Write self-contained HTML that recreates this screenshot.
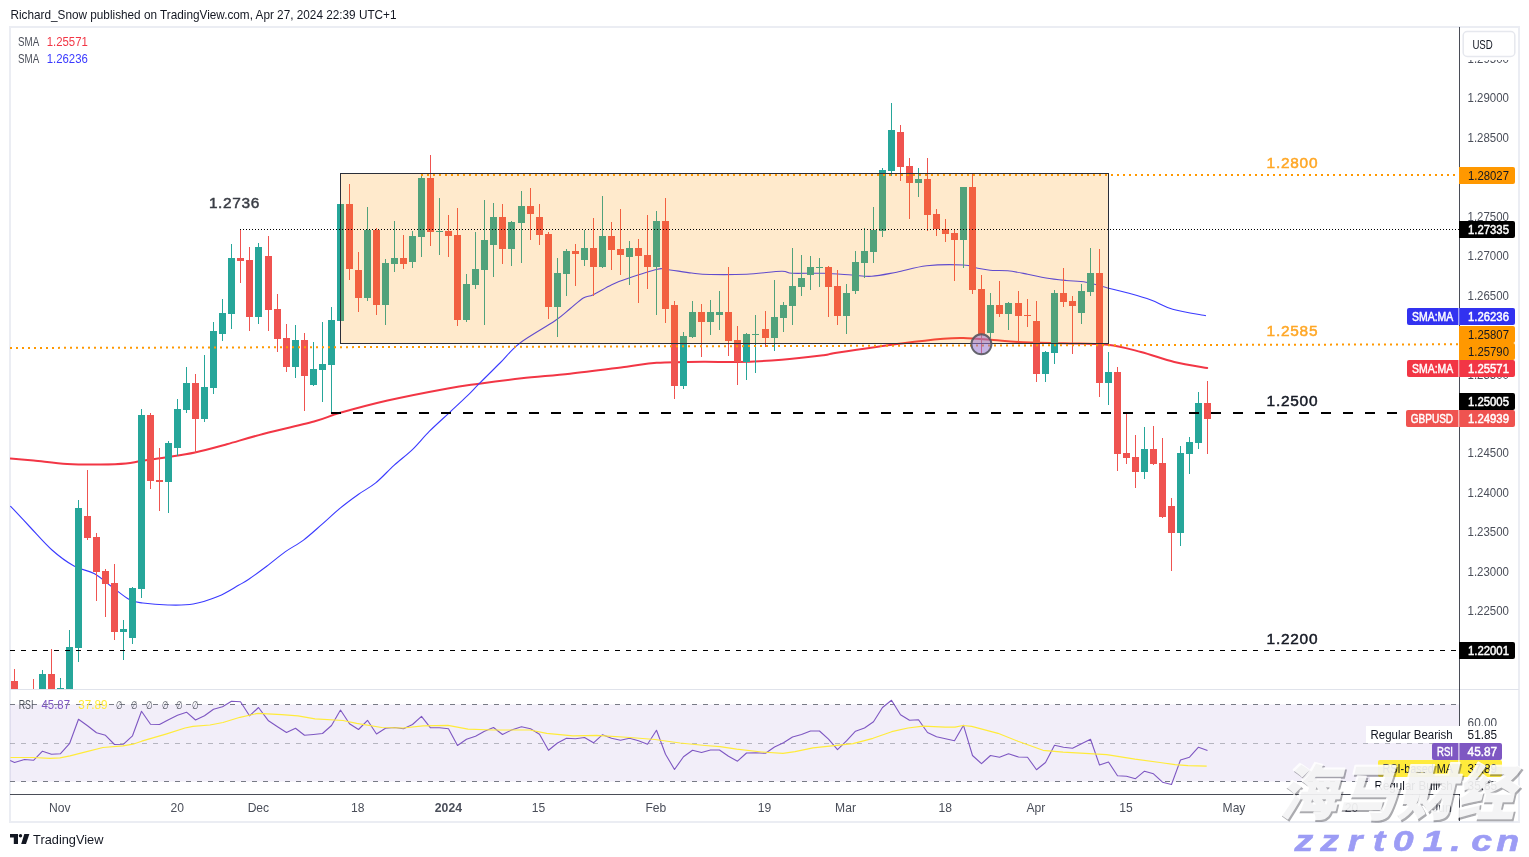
<!DOCTYPE html>
<html lang="en"><head><meta charset="utf-8"><title>GBPUSD chart</title>
<style>html,body{margin:0;padding:0;background:#fff}body{width:1529px;height:857px;overflow:hidden}svg{display:block}</style>
</head><body>
<svg width="1529" height="857" viewBox="0 0 1529 857" font-family='"Liberation Sans", sans-serif'>
<defs>
<clipPath id="mainclip"><rect x="10" y="27" width="1449" height="662"/></clipPath>
<clipPath id="rsiclip"><rect x="10" y="690" width="1449" height="104"/></clipPath>
<clipPath id="axclip"><rect x="1460" y="27" width="59" height="767"/></clipPath>
</defs>
<rect x="0" y="0" width="1529" height="857" fill="#ffffff"/>
<rect x="10" y="27" width="1509" height="795" fill="none" stroke="#ebedf3" stroke-width="2"/>
<rect x="10" y="689" width="1509" height="1" fill="#e0e3eb"/>
<g clip-path="url(#mainclip)">
<path d="M10.4,458.6 C14.3,458.9 24.1,459.7 33.6,460.6 C43.1,461.5 56.0,463.4 67.2,464.0 C78.4,464.6 91.0,464.6 100.8,464.5 C110.6,464.4 119.3,464.1 126.0,463.5 C132.7,462.9 134.0,462.1 141.0,461.0 C148.0,459.9 159.0,458.5 168.0,457.1 C177.0,455.7 185.2,454.6 195.0,452.5 C204.8,450.4 216.2,447.2 226.8,444.3 C237.5,441.4 244.4,438.9 258.9,435.1 C273.4,431.3 300.4,425.2 314.0,421.5 C327.6,417.8 327.9,416.3 340.2,412.8 C352.4,409.3 369.6,404.6 387.5,400.5 C405.4,396.4 432.5,391.2 447.8,388.4 C463.1,385.6 466.9,385.4 479.2,383.7 C491.5,382.0 506.6,380.0 521.7,378.3 C536.8,376.6 552.5,375.6 570.0,373.7 C587.5,371.8 612.2,368.5 626.7,366.7 C641.2,364.9 643.9,363.6 656.7,362.8 C669.5,362.0 690.0,361.8 703.3,361.7 C716.6,361.6 723.6,362.3 736.7,362.0 C749.8,361.7 767.2,360.8 781.7,359.7 C796.2,358.6 814.5,356.4 823.7,355.3 C832.9,354.2 823.4,354.8 836.7,352.8 C850.0,350.8 885.5,345.6 903.3,343.3 C921.1,341.0 933.3,339.7 943.3,338.8 C953.3,337.9 955.0,337.8 963.3,338.0 C971.6,338.2 984.1,339.3 993.3,340.0 C1002.5,340.7 1006.6,341.4 1018.3,342.0 C1030.0,342.6 1048.8,342.9 1063.7,343.3 C1078.6,343.8 1094.8,343.2 1107.7,344.7 C1120.6,346.1 1129.9,349.1 1141.0,352.0 C1152.1,354.9 1163.3,359.3 1174.3,362.0 C1185.3,364.7 1201.7,367.0 1207.2,368.0" fill="none" stroke="#f23645" stroke-width="2" stroke-linejoin="round" stroke-linecap="round"/>
<path d="M10.4,506.0 C13.7,509.5 23.1,519.7 30.0,527.0 C36.9,534.3 44.7,543.5 52.0,550.0 C59.3,556.5 67.0,562.1 74.0,566.0 C81.0,569.9 87.8,570.2 94.0,573.5 C100.2,576.8 105.0,581.7 110.9,586.0 C116.8,590.3 124.0,596.7 129.3,599.5 C134.6,602.3 136.4,602.1 142.8,603.0 C149.2,603.9 159.6,604.8 168.0,605.0 C176.4,605.2 184.8,605.5 193.2,604.0 C201.6,602.5 210.8,599.3 218.4,596.2 C226.0,593.1 233.5,588.1 238.5,585.3 C243.5,582.5 243.7,582.7 248.4,579.5 C253.1,576.3 260.6,570.9 266.7,566.3 C272.8,561.7 279.0,556.3 285.1,551.9 C291.2,547.5 297.4,544.7 303.5,540.1 C309.6,535.5 315.8,529.7 321.9,524.4 C328.0,519.1 334.1,513.1 340.2,508.1 C346.3,503.1 352.7,498.4 358.6,494.2 C364.5,490.0 369.8,487.7 375.7,482.9 C381.6,478.1 387.9,470.9 394.0,465.3 C400.1,459.8 406.5,455.3 412.4,449.6 C418.3,443.9 423.4,437.3 429.5,431.2 C435.6,425.1 442.9,418.7 449.2,412.8 C455.5,406.9 462.5,400.6 467.5,395.7 C472.5,390.8 473.8,389.1 479.2,383.7 C484.6,378.2 493.2,369.8 500.0,363.0 C506.8,356.2 510.8,350.0 520.0,343.0 C529.2,336.0 546.7,326.5 555.0,320.8 C563.3,315.1 565.3,312.6 570.0,308.8 C574.7,305.0 579.4,300.4 583.3,298.0 C587.2,295.6 588.6,296.9 593.3,294.7 C598.0,292.5 605.9,287.4 611.7,284.7 C617.5,282.0 620.9,280.8 628.3,278.3 C635.7,275.8 650.1,271.0 656.3,269.5 C662.5,268.0 659.4,268.6 665.3,269.2 C671.2,269.8 684.2,272.1 691.7,273.0 C699.2,273.9 700.8,274.3 710.0,274.5 C719.2,274.7 734.8,274.7 746.7,274.2 C758.7,273.7 774.1,271.4 781.7,271.3 C789.3,271.2 785.2,273.0 792.2,273.3 C799.2,273.6 813.8,273.0 823.7,273.3 C833.6,273.6 843.7,274.5 851.7,275.0 C859.7,275.5 864.2,276.8 871.7,276.3 C879.2,275.8 887.5,273.9 896.7,272.2 C905.9,270.4 915.6,267.0 926.7,265.8 C937.8,264.6 955.0,264.6 963.3,265.0 C971.6,265.4 972.2,267.1 976.7,268.0 C981.2,268.9 984.8,269.8 990.0,270.3 C995.2,270.8 1001.4,270.2 1007.7,270.8 C1014.0,271.4 1021.3,273.0 1027.7,274.2 C1034.1,275.4 1039.6,276.9 1046.0,278.0 C1052.4,279.1 1059.3,279.8 1066.0,280.5 C1072.7,281.2 1079.0,280.9 1086.0,282.2 C1093.0,283.4 1101.0,286.3 1107.7,288.0 C1114.4,289.7 1118.8,290.5 1126.0,292.5 C1133.2,294.5 1143.2,297.2 1151.0,300.0 C1158.8,302.8 1163.5,306.6 1172.7,309.2 C1181.9,311.8 1200.5,314.7 1206.0,315.8" fill="none" stroke="#3a3aff" stroke-width="1.1" stroke-linejoin="round"/>
<g shape-rendering="crispEdges">
<rect x="14" y="669" width="1" height="31" fill="#ef5350"/>
<rect x="11" y="681" width="7" height="19" fill="#ef5350"/>
<rect x="33" y="679" width="1" height="21" fill="#ef5350"/>
<rect x="30" y="700" width="7" height="1" fill="#ef5350"/>
<rect x="42" y="670" width="1" height="30" fill="#26a69a"/>
<rect x="39" y="674" width="7" height="26" fill="#26a69a"/>
<rect x="51" y="649" width="1" height="51" fill="#ef5350"/>
<rect x="48" y="674" width="7" height="26" fill="#ef5350"/>
<rect x="60" y="678" width="1" height="22" fill="#26a69a"/>
<rect x="57" y="688" width="7" height="12" fill="#26a69a"/>
<rect x="69" y="630" width="1" height="70" fill="#26a69a"/>
<rect x="66" y="647" width="7" height="53" fill="#26a69a"/>
<rect x="78" y="500" width="1" height="162" fill="#26a69a"/>
<rect x="75" y="508" width="7" height="140" fill="#26a69a"/>
<rect x="87" y="470" width="1" height="70" fill="#ef5350"/>
<rect x="84" y="516" width="7" height="22" fill="#ef5350"/>
<rect x="96" y="533" width="1" height="68" fill="#ef5350"/>
<rect x="93" y="537" width="7" height="35" fill="#ef5350"/>
<rect x="105" y="569" width="1" height="48" fill="#ef5350"/>
<rect x="102" y="571" width="7" height="13" fill="#ef5350"/>
<rect x="114" y="564" width="1" height="76" fill="#ef5350"/>
<rect x="111" y="583" width="7" height="49" fill="#ef5350"/>
<rect x="123" y="620" width="1" height="40" fill="#26a69a"/>
<rect x="120" y="629" width="7" height="3" fill="#26a69a"/>
<rect x="132" y="587" width="1" height="57" fill="#26a69a"/>
<rect x="129" y="588" width="7" height="50" fill="#26a69a"/>
<rect x="141" y="409" width="1" height="189" fill="#26a69a"/>
<rect x="138" y="415" width="7" height="174" fill="#26a69a"/>
<rect x="150" y="413" width="1" height="76" fill="#ef5350"/>
<rect x="147" y="415" width="7" height="66" fill="#ef5350"/>
<rect x="159" y="448" width="1" height="63" fill="#ef5350"/>
<rect x="156" y="480" width="7" height="2" fill="#ef5350"/>
<rect x="168" y="441" width="1" height="72" fill="#26a69a"/>
<rect x="165" y="443" width="7" height="39" fill="#26a69a"/>
<rect x="177" y="399" width="1" height="57" fill="#26a69a"/>
<rect x="174" y="409" width="7" height="39" fill="#26a69a"/>
<rect x="186" y="367" width="1" height="46" fill="#26a69a"/>
<rect x="183" y="383" width="7" height="27" fill="#26a69a"/>
<rect x="195" y="374" width="1" height="79" fill="#ef5350"/>
<rect x="192" y="383" width="7" height="36" fill="#ef5350"/>
<rect x="204" y="355" width="1" height="67" fill="#26a69a"/>
<rect x="201" y="387" width="7" height="32" fill="#26a69a"/>
<rect x="213" y="322" width="1" height="72" fill="#26a69a"/>
<rect x="210" y="331" width="7" height="57" fill="#26a69a"/>
<rect x="222" y="299" width="1" height="42" fill="#26a69a"/>
<rect x="219" y="313" width="7" height="21" fill="#26a69a"/>
<rect x="231" y="244" width="1" height="85" fill="#26a69a"/>
<rect x="228" y="258" width="7" height="56" fill="#26a69a"/>
<rect x="240" y="230" width="1" height="53" fill="#ef5350"/>
<rect x="237" y="258" width="7" height="3" fill="#ef5350"/>
<rect x="249" y="247" width="1" height="84" fill="#ef5350"/>
<rect x="246" y="260" width="7" height="57" fill="#ef5350"/>
<rect x="258" y="243" width="1" height="81" fill="#26a69a"/>
<rect x="255" y="247" width="7" height="70" fill="#26a69a"/>
<rect x="268" y="236" width="1" height="95" fill="#ef5350"/>
<rect x="265" y="256" width="7" height="54" fill="#ef5350"/>
<rect x="277" y="294" width="1" height="58" fill="#ef5350"/>
<rect x="274" y="309" width="7" height="30" fill="#ef5350"/>
<rect x="286" y="324" width="1" height="48" fill="#ef5350"/>
<rect x="283" y="338" width="7" height="29" fill="#ef5350"/>
<rect x="295" y="325" width="1" height="53" fill="#26a69a"/>
<rect x="292" y="340" width="7" height="27" fill="#26a69a"/>
<rect x="304" y="333" width="1" height="78" fill="#ef5350"/>
<rect x="301" y="340" width="7" height="36" fill="#ef5350"/>
<rect x="313" y="342" width="1" height="44" fill="#26a69a"/>
<rect x="310" y="369" width="7" height="16" fill="#26a69a"/>
<rect x="322" y="322" width="1" height="80" fill="#26a69a"/>
<rect x="319" y="364" width="7" height="6" fill="#26a69a"/>
<rect x="331" y="307" width="1" height="106" fill="#26a69a"/>
<rect x="328" y="320" width="7" height="45" fill="#26a69a"/>
<rect x="340" y="204" width="1" height="117" fill="#26a69a"/>
<rect x="337" y="204" width="7" height="117" fill="#26a69a"/>
<rect x="349" y="184" width="1" height="96" fill="#ef5350"/>
<rect x="346" y="204" width="7" height="65" fill="#ef5350"/>
<rect x="358" y="252" width="1" height="60" fill="#ef5350"/>
<rect x="355" y="270" width="7" height="28" fill="#ef5350"/>
<rect x="367" y="207" width="1" height="94" fill="#26a69a"/>
<rect x="364" y="230" width="7" height="68" fill="#26a69a"/>
<rect x="376" y="228" width="1" height="87" fill="#ef5350"/>
<rect x="373" y="230" width="7" height="75" fill="#ef5350"/>
<rect x="385" y="259" width="1" height="66" fill="#26a69a"/>
<rect x="382" y="263" width="7" height="42" fill="#26a69a"/>
<rect x="394" y="221" width="1" height="51" fill="#26a69a"/>
<rect x="391" y="258" width="7" height="6" fill="#26a69a"/>
<rect x="403" y="235" width="1" height="34" fill="#ef5350"/>
<rect x="400" y="258" width="7" height="6" fill="#ef5350"/>
<rect x="412" y="231" width="1" height="37" fill="#26a69a"/>
<rect x="409" y="236" width="7" height="26" fill="#26a69a"/>
<rect x="421" y="174" width="1" height="83" fill="#26a69a"/>
<rect x="418" y="178" width="7" height="59" fill="#26a69a"/>
<rect x="430" y="155" width="1" height="91" fill="#ef5350"/>
<rect x="427" y="178" width="7" height="54" fill="#ef5350"/>
<rect x="439" y="198" width="1" height="57" fill="#26a69a"/>
<rect x="436" y="231" width="7" height="1" fill="#26a69a"/>
<rect x="448" y="215" width="1" height="42" fill="#ef5350"/>
<rect x="445" y="231" width="7" height="5" fill="#ef5350"/>
<rect x="457" y="208" width="1" height="118" fill="#ef5350"/>
<rect x="454" y="235" width="7" height="85" fill="#ef5350"/>
<rect x="466" y="274" width="1" height="48" fill="#26a69a"/>
<rect x="463" y="284" width="7" height="36" fill="#26a69a"/>
<rect x="475" y="232" width="1" height="57" fill="#26a69a"/>
<rect x="472" y="269" width="7" height="16" fill="#26a69a"/>
<rect x="484" y="200" width="1" height="125" fill="#26a69a"/>
<rect x="481" y="240" width="7" height="30" fill="#26a69a"/>
<rect x="493" y="203" width="1" height="74" fill="#26a69a"/>
<rect x="490" y="217" width="7" height="28" fill="#26a69a"/>
<rect x="502" y="204" width="1" height="60" fill="#ef5350"/>
<rect x="499" y="217" width="7" height="32" fill="#ef5350"/>
<rect x="511" y="221" width="1" height="45" fill="#26a69a"/>
<rect x="508" y="222" width="7" height="27" fill="#26a69a"/>
<rect x="521" y="191" width="1" height="72" fill="#26a69a"/>
<rect x="518" y="206" width="7" height="17" fill="#26a69a"/>
<rect x="530" y="188" width="1" height="52" fill="#ef5350"/>
<rect x="527" y="206" width="7" height="8" fill="#ef5350"/>
<rect x="539" y="204" width="1" height="41" fill="#ef5350"/>
<rect x="536" y="217" width="7" height="18" fill="#ef5350"/>
<rect x="548" y="232" width="1" height="87" fill="#ef5350"/>
<rect x="545" y="234" width="7" height="73" fill="#ef5350"/>
<rect x="557" y="258" width="1" height="79" fill="#26a69a"/>
<rect x="554" y="273" width="7" height="34" fill="#26a69a"/>
<rect x="566" y="249" width="1" height="47" fill="#26a69a"/>
<rect x="563" y="251" width="7" height="23" fill="#26a69a"/>
<rect x="575" y="244" width="1" height="42" fill="#ef5350"/>
<rect x="572" y="251" width="7" height="3" fill="#ef5350"/>
<rect x="584" y="230" width="1" height="36" fill="#26a69a"/>
<rect x="581" y="248" width="7" height="12" fill="#26a69a"/>
<rect x="593" y="218" width="1" height="78" fill="#ef5350"/>
<rect x="590" y="248" width="7" height="19" fill="#ef5350"/>
<rect x="602" y="196" width="1" height="72" fill="#26a69a"/>
<rect x="599" y="236" width="7" height="31" fill="#26a69a"/>
<rect x="611" y="222" width="1" height="48" fill="#ef5350"/>
<rect x="608" y="236" width="7" height="14" fill="#ef5350"/>
<rect x="620" y="209" width="1" height="66" fill="#ef5350"/>
<rect x="617" y="249" width="7" height="6" fill="#ef5350"/>
<rect x="629" y="241" width="1" height="44" fill="#26a69a"/>
<rect x="626" y="248" width="7" height="9" fill="#26a69a"/>
<rect x="638" y="239" width="1" height="64" fill="#ef5350"/>
<rect x="635" y="248" width="7" height="8" fill="#ef5350"/>
<rect x="647" y="215" width="1" height="74" fill="#ef5350"/>
<rect x="644" y="255" width="7" height="12" fill="#ef5350"/>
<rect x="656" y="211" width="1" height="104" fill="#26a69a"/>
<rect x="653" y="221" width="7" height="46" fill="#26a69a"/>
<rect x="665" y="198" width="1" height="125" fill="#ef5350"/>
<rect x="662" y="221" width="7" height="88" fill="#ef5350"/>
<rect x="674" y="301" width="1" height="98" fill="#ef5350"/>
<rect x="671" y="305" width="7" height="81" fill="#ef5350"/>
<rect x="683" y="332" width="1" height="57" fill="#26a69a"/>
<rect x="680" y="336" width="7" height="50" fill="#26a69a"/>
<rect x="692" y="301" width="1" height="37" fill="#26a69a"/>
<rect x="689" y="312" width="7" height="25" fill="#26a69a"/>
<rect x="701" y="304" width="1" height="53" fill="#ef5350"/>
<rect x="698" y="312" width="7" height="10" fill="#ef5350"/>
<rect x="710" y="300" width="1" height="35" fill="#26a69a"/>
<rect x="707" y="312" width="7" height="10" fill="#26a69a"/>
<rect x="719" y="291" width="1" height="39" fill="#26a69a"/>
<rect x="716" y="312" width="7" height="3" fill="#26a69a"/>
<rect x="728" y="267" width="1" height="89" fill="#ef5350"/>
<rect x="725" y="312" width="7" height="29" fill="#ef5350"/>
<rect x="737" y="326" width="1" height="59" fill="#ef5350"/>
<rect x="734" y="340" width="7" height="22" fill="#ef5350"/>
<rect x="746" y="333" width="1" height="47" fill="#26a69a"/>
<rect x="743" y="334" width="7" height="28" fill="#26a69a"/>
<rect x="755" y="315" width="1" height="58" fill="#26a69a"/>
<rect x="752" y="334" width="7" height="1" fill="#26a69a"/>
<rect x="765" y="311" width="1" height="36" fill="#ef5350"/>
<rect x="762" y="329" width="7" height="9" fill="#ef5350"/>
<rect x="774" y="280" width="1" height="71" fill="#26a69a"/>
<rect x="771" y="317" width="7" height="21" fill="#26a69a"/>
<rect x="783" y="302" width="1" height="30" fill="#26a69a"/>
<rect x="780" y="305" width="7" height="13" fill="#26a69a"/>
<rect x="792" y="248" width="1" height="77" fill="#26a69a"/>
<rect x="789" y="286" width="7" height="20" fill="#26a69a"/>
<rect x="801" y="255" width="1" height="41" fill="#26a69a"/>
<rect x="798" y="278" width="7" height="9" fill="#26a69a"/>
<rect x="810" y="256" width="1" height="34" fill="#26a69a"/>
<rect x="807" y="267" width="7" height="8" fill="#26a69a"/>
<rect x="819" y="258" width="1" height="29" fill="#26a69a"/>
<rect x="816" y="267" width="7" height="1" fill="#26a69a"/>
<rect x="828" y="266" width="1" height="51" fill="#ef5350"/>
<rect x="825" y="267" width="7" height="20" fill="#ef5350"/>
<rect x="837" y="270" width="1" height="55" fill="#ef5350"/>
<rect x="834" y="286" width="7" height="30" fill="#ef5350"/>
<rect x="846" y="284" width="1" height="50" fill="#26a69a"/>
<rect x="843" y="293" width="7" height="23" fill="#26a69a"/>
<rect x="855" y="251" width="1" height="43" fill="#26a69a"/>
<rect x="852" y="262" width="7" height="29" fill="#26a69a"/>
<rect x="864" y="228" width="1" height="50" fill="#26a69a"/>
<rect x="861" y="251" width="7" height="12" fill="#26a69a"/>
<rect x="873" y="207" width="1" height="56" fill="#26a69a"/>
<rect x="870" y="230" width="7" height="22" fill="#26a69a"/>
<rect x="882" y="168" width="1" height="69" fill="#26a69a"/>
<rect x="879" y="170" width="7" height="61" fill="#26a69a"/>
<rect x="891" y="103" width="1" height="73" fill="#26a69a"/>
<rect x="888" y="130" width="7" height="41" fill="#26a69a"/>
<rect x="900" y="125" width="1" height="56" fill="#ef5350"/>
<rect x="897" y="132" width="7" height="35" fill="#ef5350"/>
<rect x="909" y="158" width="1" height="61" fill="#ef5350"/>
<rect x="906" y="166" width="7" height="17" fill="#ef5350"/>
<rect x="918" y="168" width="1" height="29" fill="#26a69a"/>
<rect x="915" y="179" width="7" height="4" fill="#26a69a"/>
<rect x="927" y="158" width="1" height="73" fill="#ef5350"/>
<rect x="924" y="179" width="7" height="36" fill="#ef5350"/>
<rect x="936" y="209" width="1" height="27" fill="#ef5350"/>
<rect x="933" y="214" width="7" height="15" fill="#ef5350"/>
<rect x="945" y="219" width="1" height="23" fill="#ef5350"/>
<rect x="942" y="229" width="7" height="5" fill="#ef5350"/>
<rect x="954" y="230" width="1" height="51" fill="#ef5350"/>
<rect x="951" y="233" width="7" height="7" fill="#ef5350"/>
<rect x="963" y="187" width="1" height="81" fill="#26a69a"/>
<rect x="960" y="187" width="7" height="53" fill="#26a69a"/>
<rect x="972" y="173" width="1" height="121" fill="#ef5350"/>
<rect x="969" y="187" width="7" height="103" fill="#ef5350"/>
<rect x="981" y="275" width="1" height="79" fill="#ef5350"/>
<rect x="978" y="289" width="7" height="45" fill="#ef5350"/>
<rect x="990" y="293" width="1" height="45" fill="#26a69a"/>
<rect x="987" y="305" width="7" height="28" fill="#26a69a"/>
<rect x="999" y="281" width="1" height="36" fill="#ef5350"/>
<rect x="996" y="305" width="7" height="9" fill="#ef5350"/>
<rect x="1008" y="302" width="1" height="28" fill="#26a69a"/>
<rect x="1005" y="303" width="7" height="11" fill="#26a69a"/>
<rect x="1018" y="291" width="1" height="51" fill="#ef5350"/>
<rect x="1015" y="303" width="7" height="13" fill="#ef5350"/>
<rect x="1027" y="299" width="1" height="28" fill="#ef5350"/>
<rect x="1024" y="315" width="7" height="1" fill="#ef5350"/>
<rect x="1036" y="301" width="1" height="81" fill="#ef5350"/>
<rect x="1033" y="321" width="7" height="53" fill="#ef5350"/>
<rect x="1045" y="351" width="1" height="31" fill="#26a69a"/>
<rect x="1042" y="352" width="7" height="22" fill="#26a69a"/>
<rect x="1054" y="290" width="1" height="74" fill="#26a69a"/>
<rect x="1051" y="293" width="7" height="60" fill="#26a69a"/>
<rect x="1063" y="268" width="1" height="39" fill="#ef5350"/>
<rect x="1060" y="293" width="7" height="9" fill="#ef5350"/>
<rect x="1072" y="296" width="1" height="58" fill="#ef5350"/>
<rect x="1069" y="301" width="7" height="5" fill="#ef5350"/>
<rect x="1081" y="284" width="1" height="40" fill="#26a69a"/>
<rect x="1078" y="291" width="7" height="22" fill="#26a69a"/>
<rect x="1090" y="248" width="1" height="48" fill="#26a69a"/>
<rect x="1087" y="273" width="7" height="19" fill="#26a69a"/>
<rect x="1099" y="249" width="1" height="148" fill="#ef5350"/>
<rect x="1096" y="273" width="7" height="110" fill="#ef5350"/>
<rect x="1108" y="352" width="1" height="53" fill="#26a69a"/>
<rect x="1105" y="372" width="7" height="11" fill="#26a69a"/>
<rect x="1117" y="367" width="1" height="104" fill="#ef5350"/>
<rect x="1114" y="372" width="7" height="82" fill="#ef5350"/>
<rect x="1126" y="413" width="1" height="51" fill="#ef5350"/>
<rect x="1123" y="453" width="7" height="5" fill="#ef5350"/>
<rect x="1135" y="435" width="1" height="53" fill="#ef5350"/>
<rect x="1132" y="457" width="7" height="15" fill="#ef5350"/>
<rect x="1144" y="427" width="1" height="52" fill="#26a69a"/>
<rect x="1141" y="449" width="7" height="23" fill="#26a69a"/>
<rect x="1153" y="426" width="1" height="39" fill="#ef5350"/>
<rect x="1150" y="449" width="7" height="15" fill="#ef5350"/>
<rect x="1162" y="438" width="1" height="80" fill="#ef5350"/>
<rect x="1159" y="463" width="7" height="54" fill="#ef5350"/>
<rect x="1171" y="498" width="1" height="73" fill="#ef5350"/>
<rect x="1168" y="506" width="7" height="27" fill="#ef5350"/>
<rect x="1180" y="446" width="1" height="100" fill="#26a69a"/>
<rect x="1177" y="453" width="7" height="80" fill="#26a69a"/>
<rect x="1189" y="437" width="1" height="37" fill="#26a69a"/>
<rect x="1186" y="442" width="7" height="12" fill="#26a69a"/>
<rect x="1198" y="392" width="1" height="57" fill="#26a69a"/>
<rect x="1195" y="403" width="7" height="40" fill="#26a69a"/>
<rect x="1207" y="381" width="1" height="73" fill="#ef5350"/>
<rect x="1204" y="403" width="7" height="16" fill="#ef5350"/>
</g>
<rect x="340.5" y="173.5" width="768" height="170" fill="#ff9800" fill-opacity="0.2" stroke="#2a2e39" stroke-width="1"/>
<g shape-rendering="crispEdges">
<line x1="421" y1="175" x2="1458" y2="175" stroke="#ff9800" stroke-width="2" stroke-dasharray="2 4"/>
<line x1="10" y1="348" x2="1458" y2="344.3" stroke="#ff9800" stroke-width="2" stroke-dasharray="2 4" shape-rendering="auto"/>
<line x1="240" y1="229.5" x2="1459" y2="229.5" stroke="#000" stroke-width="1" stroke-dasharray="1 2"/>
<line x1="331" y1="413" x2="1459" y2="413" stroke="#000" stroke-width="2" stroke-dasharray="10 12"/>
</g>
<line x1="10" y1="650.5" x2="1459" y2="650.5" stroke="#000" stroke-width="1" stroke-dasharray="5 6" shape-rendering="crispEdges"/>
<circle cx="981.4" cy="344.3" r="10" fill="#9575cd" fill-opacity="0.55" stroke="#55555e" stroke-opacity="0.9" stroke-width="2"/>
<text x="208.9" y="208.3" font-size="15.4" fill="#3a3d45" font-weight="normal" text-anchor="start" textLength="50.4" lengthAdjust="spacing" stroke="#3a3d45" stroke-width="0.5">1.2736</text>
<text x="1266.6" y="167.9" font-size="15.4" fill="#ffa726" font-weight="normal" text-anchor="start" textLength="50.9" lengthAdjust="spacing" stroke="#ffa726" stroke-width="0.5">1.2800</text>
<text x="1266.6" y="335.9" font-size="15.4" fill="#ffa726" font-weight="normal" text-anchor="start" textLength="50.9" lengthAdjust="spacing" stroke="#ffa726" stroke-width="0.5">1.2585</text>
<text x="1266.6" y="405.7" font-size="15.4" fill="#161a25" font-weight="normal" text-anchor="start" textLength="50.9" lengthAdjust="spacing" stroke="#161a25" stroke-width="0.5">1.2500</text>
<text x="1266.6" y="643.9" font-size="15.4" fill="#161a25" font-weight="normal" text-anchor="start" textLength="50.9" lengthAdjust="spacing" stroke="#161a25" stroke-width="0.5">1.2200</text>
</g>
<text x="18.1" y="46" font-size="12" fill="#4a4e59" font-weight="normal" text-anchor="start" textLength="21.2" lengthAdjust="spacingAndGlyphs">SMA</text>
<text x="46.7" y="46" font-size="12" fill="#f23645" font-weight="normal" text-anchor="start" textLength="41.2" lengthAdjust="spacingAndGlyphs">1.25571</text>
<text x="18.1" y="62.8" font-size="12" fill="#4a4e59" font-weight="normal" text-anchor="start" textLength="21.2" lengthAdjust="spacingAndGlyphs">SMA</text>
<text x="46.7" y="62.8" font-size="12" fill="#3a3aff" font-weight="normal" text-anchor="start" textLength="41.2" lengthAdjust="spacingAndGlyphs">1.26236</text>
<g clip-path="url(#rsiclip)">
<rect x="10" y="704.5" width="1449" height="77" fill="#7e57c2" fill-opacity="0.1"/>
<g shape-rendering="crispEdges">
<line x1="10" y1="704.5" x2="1459" y2="704.5" stroke="#787b86" stroke-width="1" stroke-dasharray="5 6"/>
<line x1="10" y1="743.5" x2="1459" y2="743.5" stroke="#787b86" stroke-opacity="0.5" stroke-width="1" stroke-dasharray="5 6"/>
<line x1="10" y1="781.5" x2="1459" y2="781.5" stroke="#787b86" stroke-width="1" stroke-dasharray="5 6"/>
</g>
<polyline points="10.2,760.5 14.5,762.5 24.5,759.5 33.5,760.3 42.5,751.2 51.5,754.2 60.5,753.7 69.5,743.7 78.5,719.2 87.5,725.8 96.5,732.8 105.5,735.3 114.5,744.5 123.5,744.2 132.5,735.8 141.5,711.3 150.5,724.2 159.5,724.5 168.5,719.7 177.5,715.3 186.5,712.2 195.5,720.0 204.5,715.8 213.5,709.2 222.5,706.7 231.5,701.3 240.5,701.7 249.5,715.8 258.5,707.5 268.5,720.8 277.5,726.7 286.5,732.5 295.5,728.3 304.5,735.3 313.5,734.5 322.5,733.5 331.5,725.5 340.5,710.0 349.5,723.7 358.5,729.5 367.5,720.3 376.5,734.0 385.5,728.3 394.5,727.5 403.5,728.8 412.5,724.5 421.5,716.3 430.5,727.8 439.5,727.8 448.5,728.7 457.5,745.5 466.5,739.2 475.5,736.2 484.5,731.3 493.5,727.5 502.5,734.5 511.5,730.0 521.5,726.7 530.5,728.7 539.5,734.2 548.5,750.3 557.5,743.0 566.5,738.3 575.5,738.7 584.5,737.5 593.5,742.8 602.5,734.7 611.5,738.3 620.5,740.3 629.5,738.3 638.5,740.8 647.5,744.2 656.5,730.3 665.5,754.2 674.5,769.5 683.5,756.7 692.5,750.3 701.5,752.5 710.5,750.0 719.5,750.0 728.5,756.3 737.5,761.2 746.5,753.0 755.5,752.8 765.5,753.3 774.5,747.0 783.5,742.8 792.5,737.0 801.5,734.5 810.5,731.0 819.5,731.0 828.5,739.2 837.5,749.7 846.5,740.8 855.5,731.2 864.5,728.0 873.5,721.7 882.5,707.5 891.5,700.3 900.5,714.7 909.5,720.3 918.5,719.7 927.5,732.5 936.5,736.7 945.5,738.7 954.5,740.8 963.5,725.3 972.5,755.5 981.5,763.7 990.5,755.5 999.5,757.2 1008.5,753.8 1018.5,757.0 1027.5,757.2 1036.5,769.7 1045.5,762.5 1054.5,745.3 1063.5,747.2 1072.5,748.3 1081.5,743.7 1090.5,739.2 1099.5,765.0 1108.5,762.0 1117.5,775.8 1126.5,776.3 1135.5,778.7 1144.5,771.2 1153.5,773.8 1162.5,782.2 1171.5,784.5 1180.5,760.0 1189.5,757.2 1198.5,747.2 1207.5,750.5" fill="none" stroke="#7e57c2" stroke-width="1.1" stroke-linejoin="round"/>
<polyline points="10.4,757.5 33.0,757.5 50.0,758.3 60.0,757.8 70.0,755.8 86.7,751.7 103.0,747.5 123.0,745.8 133.0,744.2 141.7,741.2 166.7,733.8 185.0,728.0 193.0,726.3 210.0,725.0 223.0,722.5 240.0,717.3 258.0,713.3 281.7,714.7 298.0,715.8 315.0,718.8 343.0,720.5 356.7,723.3 381.7,727.5 403.0,728.0 423.0,725.8 448.0,725.3 468.0,729.2 493.0,730.0 513.0,730.0 530.0,730.0 546.7,733.3 573.0,735.8 596.7,735.3 630.0,737.5 655.0,739.5 680.0,743.0 705.0,745.5 720.0,746.7 736.7,749.2 761.7,752.0 783.0,753.3 795.0,751.7 813.0,747.8 836.7,745.3 853.0,743.7 873.0,738.3 891.7,731.7 908.0,728.0 923.0,726.2 945.0,727.2 955.0,727.2 963.0,725.5 971.7,726.3 998.0,733.3 1018.0,741.3 1043.0,750.3 1063.0,752.2 1085.0,753.3 1106.7,754.7 1135.0,759.2 1160.0,762.5 1175.0,764.7 1188.0,765.7 1206.7,766.2" fill="none" stroke="#ffeb3b" stroke-width="1.2" stroke-linejoin="round"/>
<text x="18.7" y="708.9" font-size="12" fill="#4a4e59" font-weight="normal" text-anchor="start" textLength="14.8" lengthAdjust="spacingAndGlyphs">RSI</text>
<text x="41.5" y="708.9" font-size="12" fill="#7e57c2" font-weight="normal" text-anchor="start" textLength="28.5" lengthAdjust="spacingAndGlyphs">45.87</text>
<text x="78.3" y="708.9" font-size="12" fill="#ffeb3b" font-weight="normal" text-anchor="start" textLength="29.2" lengthAdjust="spacingAndGlyphs">37.89</text>
<text x="115.8" y="708.9" font-size="11" fill="#4a4e59" font-weight="normal" text-anchor="start" textLength="6.8" lengthAdjust="spacingAndGlyphs">∅</text>
<text x="130.8" y="708.9" font-size="11" fill="#4a4e59" font-weight="normal" text-anchor="start" textLength="6.8" lengthAdjust="spacingAndGlyphs">∅</text>
<text x="145.8" y="708.9" font-size="11" fill="#4a4e59" font-weight="normal" text-anchor="start" textLength="6.8" lengthAdjust="spacingAndGlyphs">∅</text>
<text x="161.6" y="708.9" font-size="11" fill="#4a4e59" font-weight="normal" text-anchor="start" textLength="6.8" lengthAdjust="spacingAndGlyphs">∅</text>
<text x="176.3" y="708.9" font-size="11" fill="#4a4e59" font-weight="normal" text-anchor="start" textLength="6.8" lengthAdjust="spacingAndGlyphs">∅</text>
<text x="191.6" y="708.9" font-size="11" fill="#4a4e59" font-weight="normal" text-anchor="start" textLength="6.8" lengthAdjust="spacingAndGlyphs">∅</text>
</g>
<rect x="1459" y="27" width="1" height="794" fill="#2a2e39" fill-opacity="0.85"/>
<rect x="10" y="794" width="1450" height="1" fill="#2a2e39" fill-opacity="0.85"/>
<g clip-path="url(#axclip)">
<text x="1467.6" y="62.9" font-size="12" fill="#4a4e59" font-weight="normal" text-anchor="start" textLength="41.3" lengthAdjust="spacingAndGlyphs">1.29500</text>
<text x="1467.6" y="102.35" font-size="12" fill="#4a4e59" font-weight="normal" text-anchor="start" textLength="41.3" lengthAdjust="spacingAndGlyphs">1.29000</text>
<text x="1467.6" y="141.8" font-size="12" fill="#4a4e59" font-weight="normal" text-anchor="start" textLength="41.3" lengthAdjust="spacingAndGlyphs">1.28500</text>
<text x="1467.6" y="181.25" font-size="12" fill="#4a4e59" font-weight="normal" text-anchor="start" textLength="41.3" lengthAdjust="spacingAndGlyphs">1.28000</text>
<text x="1467.6" y="220.7" font-size="12" fill="#4a4e59" font-weight="normal" text-anchor="start" textLength="41.3" lengthAdjust="spacingAndGlyphs">1.27500</text>
<text x="1467.6" y="260.15" font-size="12" fill="#4a4e59" font-weight="normal" text-anchor="start" textLength="41.3" lengthAdjust="spacingAndGlyphs">1.27000</text>
<text x="1467.6" y="299.6" font-size="12" fill="#4a4e59" font-weight="normal" text-anchor="start" textLength="41.3" lengthAdjust="spacingAndGlyphs">1.26500</text>
<text x="1467.6" y="339.05" font-size="12" fill="#4a4e59" font-weight="normal" text-anchor="start" textLength="41.3" lengthAdjust="spacingAndGlyphs">1.26000</text>
<text x="1467.6" y="378.5" font-size="12" fill="#4a4e59" font-weight="normal" text-anchor="start" textLength="41.3" lengthAdjust="spacingAndGlyphs">1.25500</text>
<text x="1467.6" y="417.95" font-size="12" fill="#4a4e59" font-weight="normal" text-anchor="start" textLength="41.3" lengthAdjust="spacingAndGlyphs">1.25000</text>
<text x="1467.6" y="457.4" font-size="12" fill="#4a4e59" font-weight="normal" text-anchor="start" textLength="41.3" lengthAdjust="spacingAndGlyphs">1.24500</text>
<text x="1467.6" y="496.85" font-size="12" fill="#4a4e59" font-weight="normal" text-anchor="start" textLength="41.3" lengthAdjust="spacingAndGlyphs">1.24000</text>
<text x="1467.6" y="536.3" font-size="12" fill="#4a4e59" font-weight="normal" text-anchor="start" textLength="41.3" lengthAdjust="spacingAndGlyphs">1.23500</text>
<text x="1467.6" y="575.75" font-size="12" fill="#4a4e59" font-weight="normal" text-anchor="start" textLength="41.3" lengthAdjust="spacingAndGlyphs">1.23000</text>
<text x="1467.6" y="615.2" font-size="12" fill="#4a4e59" font-weight="normal" text-anchor="start" textLength="41.3" lengthAdjust="spacingAndGlyphs">1.22500</text>
<text x="1467.6" y="654.65" font-size="12" fill="#4a4e59" font-weight="normal" text-anchor="start" textLength="41.3" lengthAdjust="spacingAndGlyphs">1.22000</text>
<text x="1467.6" y="726.95" font-size="12" fill="#4a4e59" font-weight="normal" text-anchor="start" textLength="29.5" lengthAdjust="spacingAndGlyphs">60.00</text>
</g>
<rect x="1460" y="28" width="58" height="32" fill="#fff"/>
<rect x="1463.2" y="31.5" width="51.6" height="25" rx="4" fill="#fff" stroke="#e6e8ee" stroke-width="1.5"/>
<text x="1472.4" y="48.9" font-size="12" fill="#131722" font-weight="normal" text-anchor="start" textLength="20.4" lengthAdjust="spacingAndGlyphs">USD</text>
<path d="M1459,167 H1513 Q1515,167 1515,169 V182 Q1515,184 1513,184 H1459 V167 Z" fill="#ff9800"/>
<text x="1468" y="179.85" font-size="12" fill="#131722" font-weight="normal" text-anchor="start" textLength="41" lengthAdjust="spacingAndGlyphs">1.28027</text>
<path d="M1459,221 H1513 Q1515,221 1515,223 V236 Q1515,238 1513,238 H1459 V221 Z" fill="#000000"/>
<text x="1468" y="233.85" font-size="12" fill="#ffffff" font-weight="normal" text-anchor="start" textLength="41" lengthAdjust="spacingAndGlyphs" stroke="#ffffff" stroke-width="0.45">1.27335</text>
<path d="M1409,308 H1458 V325 H1409 Q1407,325 1407,323 V310 Q1407,308 1409,308 Z" fill="#3232f0"/>
<text x="1412" y="320.85" font-size="12" fill="#ffffff" font-weight="normal" text-anchor="start" textLength="41.2" lengthAdjust="spacingAndGlyphs" stroke="#ffffff" stroke-width="0.45">SMA:MA</text>
<path d="M1459,308 H1513 Q1515,308 1515,310 V323 Q1515,325 1513,325 H1459 V308 Z" fill="#3232f0"/>
<text x="1468" y="320.85" font-size="12" fill="#ffffff" font-weight="normal" text-anchor="start" textLength="41" lengthAdjust="spacingAndGlyphs" stroke="#ffffff" stroke-width="0.45">1.26236</text>
<path d="M1459,326 H1513 Q1515,326 1515,328 V341 Q1515,343 1513,343 H1459 V326 Z" fill="#ff9800"/>
<text x="1468" y="338.85" font-size="12" fill="#131722" font-weight="normal" text-anchor="start" textLength="41" lengthAdjust="spacingAndGlyphs">1.25807</text>
<path d="M1459,343 H1513 Q1515,343 1515,345 V358 Q1515,360 1513,360 H1459 V343 Z" fill="#ff9800"/>
<text x="1468" y="355.85" font-size="12" fill="#131722" font-weight="normal" text-anchor="start" textLength="41" lengthAdjust="spacingAndGlyphs">1.25790</text>
<path d="M1409,360 H1458 V377 H1409 Q1407,377 1407,375 V362 Q1407,360 1409,360 Z" fill="#f23645"/>
<text x="1412" y="372.85" font-size="12" fill="#ffffff" font-weight="normal" text-anchor="start" textLength="41.2" lengthAdjust="spacingAndGlyphs" stroke="#ffffff" stroke-width="0.45">SMA:MA</text>
<path d="M1459,360 H1513 Q1515,360 1515,362 V375 Q1515,377 1513,377 H1459 V360 Z" fill="#f23645"/>
<text x="1468" y="372.85" font-size="12" fill="#ffffff" font-weight="normal" text-anchor="start" textLength="41" lengthAdjust="spacingAndGlyphs" stroke="#ffffff" stroke-width="0.45">1.25571</text>
<path d="M1459,393 H1513 Q1515,393 1515,395 V408 Q1515,410 1513,410 H1459 V393 Z" fill="#000000"/>
<text x="1468" y="405.85" font-size="12" fill="#ffffff" font-weight="normal" text-anchor="start" textLength="41" lengthAdjust="spacingAndGlyphs" stroke="#ffffff" stroke-width="0.45">1.25005</text>
<path d="M1408,410 H1458 V427 H1408 Q1406,427 1406,425 V412 Q1406,410 1408,410 Z" fill="#ef5350"/>
<text x="1410.7" y="422.85" font-size="12" fill="#ffffff" font-weight="normal" text-anchor="start" textLength="42.4" lengthAdjust="spacingAndGlyphs" stroke="#ffffff" stroke-width="0.45">GBPUSD</text>
<path d="M1459,410 H1513 Q1515,410 1515,412 V425 Q1515,427 1513,427 H1459 V410 Z" fill="#ef5350"/>
<text x="1468" y="422.85" font-size="12" fill="#ffffff" font-weight="normal" text-anchor="start" textLength="41" lengthAdjust="spacingAndGlyphs" stroke="#ffffff" stroke-width="0.45">1.24939</text>
<path d="M1459,642 H1513 Q1515,642 1515,644 V657 Q1515,659 1513,659 H1459 V642 Z" fill="#000000"/>
<text x="1468" y="654.85" font-size="12" fill="#ffffff" font-weight="normal" text-anchor="start" textLength="41" lengthAdjust="spacingAndGlyphs" stroke="#ffffff" stroke-width="0.45">1.22001</text>
<rect x="1457.5" y="726" width="3" height="68" fill="#ffffff"/>
<path d="M1366,726 H1458 V743 H1366 V726 Z" fill="#ffffff"/>
<text x="1370.5" y="738.85" font-size="12" fill="#131722" font-weight="normal" text-anchor="start" textLength="82.2" lengthAdjust="spacingAndGlyphs">Regular Bearish</text>
<path d="M1460,726 H1502 V743 H1460 V726 Z" fill="#ffffff"/>
<text x="1467.6" y="738.85" font-size="12" fill="#131722" font-weight="normal" text-anchor="start" textLength="29.5" lengthAdjust="spacingAndGlyphs">51.85</text>
<path d="M1434,743 H1458 V760 H1434 Q1432,760 1432,758 V745 Q1432,743 1434,743 Z" fill="#7e57c2"/>
<text x="1437" y="755.85" font-size="12" fill="#ffffff" font-weight="normal" text-anchor="start" textLength="16" lengthAdjust="spacingAndGlyphs" stroke="#ffffff" stroke-width="0.45">RSI</text>
<path d="M1459.3,743 H1500 Q1502,743 1502,745 V758 Q1502,760 1500,760 H1459.3 V743 Z" fill="#7e57c2"/>
<text x="1467.6" y="755.85" font-size="12" fill="#ffffff" font-weight="normal" text-anchor="start" textLength="29.5" lengthAdjust="spacingAndGlyphs" stroke="#ffffff" stroke-width="0.45">45.87</text>
<path d="M1380,760 H1458 V777 H1380 Q1378,777 1378,775 V762 Q1378,760 1380,760 Z" fill="#ffeb3b"/>
<text x="1382.5" y="772.85" font-size="12" fill="#131722" font-weight="normal" text-anchor="start" textLength="70.5" lengthAdjust="spacingAndGlyphs">RSI-based MA</text>
<path d="M1459.3,760 H1500 Q1502,760 1502,762 V775 Q1502,777 1500,777 H1459.3 V760 Z" fill="#ffeb3b"/>
<text x="1467.6" y="772.85" font-size="12" fill="#131722" font-weight="normal" text-anchor="start" textLength="29.5" lengthAdjust="spacingAndGlyphs">37.89</text>
<path d="M1370,777 H1458 V794 H1370 V777 Z" fill="#ffffff"/>
<text x="1374.5" y="789.85" font-size="12" fill="#131722" font-weight="normal" text-anchor="start" textLength="78.2" lengthAdjust="spacingAndGlyphs">Regular Bullish</text>
<path d="M1460,777 H1502 V794 H1460 V777 Z" fill="#ffffff"/>
<text x="1467.6" y="789.85" font-size="12" fill="#131722" font-weight="normal" text-anchor="start" textLength="29.5" lengthAdjust="spacingAndGlyphs">35.85</text>
<rect x="1458" y="308" width="1.2" height="17" fill="#ffffff"/>
<rect x="1458" y="308" width="1.2" height="17" fill="#3232f0" fill-opacity="0.45"/>
<rect x="1458" y="360" width="1.2" height="17" fill="#ffffff"/>
<rect x="1458" y="360" width="1.2" height="17" fill="#f23645" fill-opacity="0.45"/>
<rect x="1458" y="410" width="1.2" height="17" fill="#ffffff"/>
<rect x="1458" y="410" width="1.2" height="17" fill="#ef5350" fill-opacity="0.45"/>
<rect x="1458" y="743" width="1.2" height="17" fill="#ffffff"/>
<rect x="1458" y="743" width="1.2" height="17" fill="#7e57c2" fill-opacity="0.45"/>
<rect x="1458" y="760" width="1.2" height="17" fill="#ffffff"/>
<rect x="1458" y="760" width="1.2" height="17" fill="#ffeb3b" fill-opacity="0.45"/>
<rect x="1458.6" y="27" width="1" height="794" fill="#2a2e39" fill-opacity="0.0"/>
<text x="59.8" y="811.9" font-size="12.1" fill="#4a4e59" font-weight="normal" text-anchor="middle">Nov</text>
<text x="177.2" y="811.9" font-size="12.1" fill="#4a4e59" font-weight="normal" text-anchor="middle">20</text>
<text x="258.4" y="811.9" font-size="12.1" fill="#4a4e59" font-weight="normal" text-anchor="middle">Dec</text>
<text x="357.8" y="811.9" font-size="12.1" fill="#4a4e59" font-weight="normal" text-anchor="middle">18</text>
<text x="434.8" y="811.9" font-size="12.8" fill="#4a4e59" font-weight="bold" text-anchor="start" textLength="27.2" lengthAdjust="spacingAndGlyphs">2024</text>
<text x="538.4" y="811.9" font-size="12.1" fill="#4a4e59" font-weight="normal" text-anchor="middle">15</text>
<text x="655.8" y="811.9" font-size="12.1" fill="#4a4e59" font-weight="normal" text-anchor="middle">Feb</text>
<text x="764.4" y="811.9" font-size="12.1" fill="#4a4e59" font-weight="normal" text-anchor="middle">19</text>
<text x="845.5" y="811.9" font-size="12.1" fill="#4a4e59" font-weight="normal" text-anchor="middle">Mar</text>
<text x="945.2" y="811.9" font-size="12.1" fill="#4a4e59" font-weight="normal" text-anchor="middle">18</text>
<text x="1035.8" y="811.9" font-size="12.1" fill="#4a4e59" font-weight="normal" text-anchor="middle">Apr</text>
<text x="1126.1" y="811.9" font-size="12.1" fill="#4a4e59" font-weight="normal" text-anchor="middle">15</text>
<text x="1234" y="811.9" font-size="12.1" fill="#4a4e59" font-weight="normal" text-anchor="middle">May</text>
<text x="1351.6" y="811.9" font-size="12.1" fill="#4a4e59" font-weight="normal" text-anchor="middle">20</text>
<text x="1441.9" y="811.9" font-size="12.1" fill="#4a4e59" font-weight="normal" text-anchor="middle">Jun</text>
<text x="10.5" y="19.1" font-size="12.7" fill="#131722" font-weight="normal" text-anchor="start" textLength="386" lengthAdjust="spacingAndGlyphs">Richard_Snow published on TradingView.com, Apr 27, 2024 22:39 UTC+1</text>
<g fill="#131722">
<path d="M10,834 H18 V844 H13.8 V837.4 H10 Z"/>
<circle cx="20.5" cy="835.7" r="1.7"/>
<path d="M24.3,834 H29.4 L26,844 H21.2 Z"/>
</g>
<text x="33.1" y="844" font-size="13" fill="#131722" font-weight="normal" text-anchor="start" textLength="70.3" lengthAdjust="spacingAndGlyphs">TradingView</text>
<g font-family='"Liberation Sans", "Noto Sans CJK SC", sans-serif'>
<g transform="translate(1278,814) skewX(-13)">
<g opacity="0.4"><text x="2" y="2" font-size="60" font-weight="900" fill="#30303a" stroke="#30303a" stroke-width="1.5" textLength="236" lengthAdjust="spacingAndGlyphs">海马财经</text></g>
<g opacity="0.88"><text x="0" y="0" font-size="60" font-weight="900" fill="#ffffff" stroke="#ffffff" stroke-width="1.5" stroke-linejoin="round" textLength="236" lengthAdjust="spacingAndGlyphs">海马财经</text></g>
</g>
<g transform="scale(1.25,1)"><text x="1035.60 1056.24 1078.24 1098.24 1114.24 1138.24 1160.24 1176.96 1196.96" y="851.5" font-size="30" font-weight="bold" font-style="italic" fill="#9c9cf5" stroke="#9c9cf5" stroke-width="0.6">zzrt01.cn</text></g>
</g>
</svg>
</body></html>
